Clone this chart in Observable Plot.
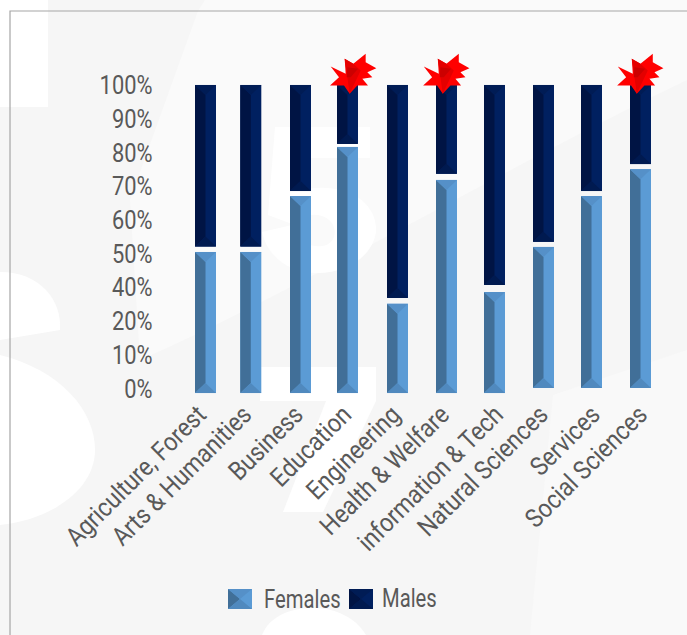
<!DOCTYPE html>
<html>
<head>
<meta charset="utf-8">
<script src="https://cdn.jsdelivr.net/npm/d3@7"></script>
<script src="https://cdn.jsdelivr.net/npm/@observablehq/plot@0.6"></script>
<style>
  html, body { margin: 0; padding: 0; background: #f6f6f6; overflow: hidden; }
  body { position: relative; width: 687px; height: 635px; font-family: Roboto, sans-serif; }
  #bg { position: absolute; left: 0; top: 0; }
  #chart { position: absolute; left: 0; top: 0; }
  #chart svg { background: transparent; overflow: visible; }
  .legend-item { position: absolute; font-size: 25px; color: #595959; line-height: 26px; white-space: nowrap; transform-origin: left center; transform: scaleX(0.81); }
  .swatch { position: absolute; }
</style>
</head>
<body>
<svg id="bg" width="687" height="635" aria-hidden="true">
  <rect width="687" height="635" fill="#f6f6f6"/>
  <path d="M198 11 L130 200 L140 360 C300 290 500 170 687 80 L687 0 L205 0 Z" fill="#fafafa"/>
  <path d="M553 395 L530 635 L687 635 L687 350 Z" fill="#f9f9f9"/>
  <rect width="48" height="107" fill="#ffffff"/>
  <path d="M0 272 C40 272 62 300 60 330 L0 340 Z" fill="#ffffff"/>
  <path d="M0 355 C60 370 95 410 95 450 C95 490 50 520 0 525 Z" fill="#ffffff"/>
  <path d="M260 367 H376 V401 L323 512 H283 L326 401 H260 Z" fill="#ffffff"/>
  <path d="M275 127 H370 V158 H306 L300 190 C350 180 378 205 376 232 C372 258 345 273 318 273 C290 273 268 258 262 232 L292 225 C298 242 312 248 322 246 C338 244 340 222 322 216 C310 212 298 218 292 224 L268 215 Z" fill="#ffffff"/>
  <path d="M262 635 C270 615 292 608 313 608 C336 608 356 618 366 635 Z" fill="#ffffff"/>
  <path d="M10 635 V11 H687" fill="none" stroke="#a6a6a6" stroke-width="1.2"/>
</svg>
<div id="chart"></div>
<svg class="swatch" style="left:228px;top:589px" width="24" height="20" viewBox="0 0 24 20">
  <rect width="24" height="20" fill="#5b9bd5"/>
  <path d="M0 0 L12 10 L0 20 Z" fill="#416f98"/>
  <path d="M0 0 H24 L12 10 Z" fill="#5590c8"/>
  <path d="M0 20 H24 L12 10 Z" fill="#5089be"/>
</svg>
<div class="legend-item" style="left:264px;top:587px">Females</div>
<svg class="swatch" style="left:349px;top:589px" width="24" height="20" viewBox="0 0 24 20">
  <rect width="24" height="20" fill="#002060"/>
  <path d="M0 0 L12 10 L0 20 Z" fill="#001444"/>
  <path d="M0 0 H24 L12 10 Z" fill="#001c55"/>
  <path d="M0 20 H24 L12 10 Z" fill="#001a50"/>
</svg>
<div class="legend-item" style="left:382px;top:586px">Males</div>
<script>
const categories = ["Agriculture, Forest", "Arts & Humanities", "Business", "Education", "Engineering", "Health & Welfare", "information & Tech", "Natural Sciences", "Services", "Social Sciences"];
const femaleBase = [-1.5, -1.5, -1.5, -1.5, -1.5, -1.5, -1.5, 0, 0, 0];
const femaleTop = [50.4, 50.4, 67, 81.6, 30, 71.8, 37, 51.9, 67, 75];
const maleBottom = [52, 52, 68.5, 82.5, 33.5, 73.6, 40.6, 53.4, 68.5, 76.5];
const maleTop = [100, 100, 100, 100, 100, 100, 100, 100, 100, 100];
const labelPositions = [0.04, 1.04, 2.08, 3.1, 4.08, 5.08, 6.2, 7.12, 8.2, 9.16];
const starPositions = [3, 4.88, 8.88];
const yTicks = [0, 10, 20, 40, 50, 60, 70, 80, 90, 100];

const rows = categories.map((c, i) => ({i, c, fb: femaleBase[i], ft: femaleTop[i], mb: maleBottom[i], mt: maleTop[i], lp: labelPositions[i]}));
const starRows = starPositions.map(p => ({p, top: 100}));

const xCenters = [205.5, 250.8, 300.5, 347.5, 397.5, 446.5, 494.5, 543.5, 591.5, 640.5];
const yPixels = yTicks.map((_, k) => 388 - k * 33.67);
const BAR_W = 21, BEVEL_Y = 10;

function bevel(left, top, bottom) {
  return function(index, scales, values, dims, ctx, next) {
    const g = next(index, scales, values, dims, ctx);
    d3.select(g).selectAll("rect").each(function() {
      const r = d3.select(this);
      const x = +r.attr("x"), y = +r.attr("y"), w = +r.attr("width"), h = +r.attr("height");
      const xm = x + w / 2, x1 = x + w, y1 = y + h;
      const add = (pts, fill) => d3.select(g).append("polygon").attr("points", pts.map(p => p.join(",")).join(" ")).attr("fill", fill);
      add([[x, y], [xm, y + BEVEL_Y], [xm, y1 - BEVEL_Y], [x, y1]], left);
      add([[x, y], [x1, y], [xm, y + BEVEL_Y]], top);
      add([[x, y1], [x1, y1], [xm, y1 - BEVEL_Y]], bottom);
    });
    return g;
  };
}

function polySymbol(pts) {
  return {draw(ctx) {
    pts.forEach((p, k) => k ? ctx.lineTo(p[0] / 3, p[1] / 3) : ctx.moveTo(p[0] / 3, p[1] / 3));
    ctx.closePath();
  }};
}
const starOutline = polySymbol([[-52,-57],[-7,-35],[-10,-80],[16,-65],[53,-95],[53,-70],[85,-52],[58,-40],[73,-25],[43,-20],[60,0],[28,0],[5,25],[-12,0],[-54,0],[-27,-25]]);
const starShade = polySymbol([[-10,-80],[16,-65],[38,-45],[5,25],[-2,-25]]);
const starDeep = polySymbol([[-2,-55],[30,-50],[8,-25],[-4,-25]]);

const font = 'Roboto, sans-serif';
const chart = Plot.plot({
  width: 687, height: 575,
  marginLeft: 155, marginRight: 0, marginTop: 0, marginBottom: 180,
  style: {background: "transparent", fontFamily: font, overflow: "visible"},
  x: {type: "linear", domain: d3.range(categories.length), range: xCenters, axis: null},
  y: {type: "linear", domain: yTicks, range: yPixels},
  marks: [
    Plot.axisY({ticks: yTicks, tickFormat: d => d + "%", tickSize: 0, tickPadding: 3, label: null, fontSize: 25, fill: "#595959", dy: 1, className: "ya"}),
    Plot.text(rows, {x: "lp", text: "c", frameAnchor: "bottom", lineAnchor: "middle", textAnchor: "end", rotate: -45, fontSize: 26, fill: "#595959", dx: -6, dy: 15, className: "xa"}),
    Plot.rect(rows, {x1: "i", x2: "i", y1: "fb", y2: "ft", fill: "#5b9bd5", insetLeft: -BAR_W / 2, insetRight: -BAR_W / 2, render: bevel("#416f98", "#5590c8", "#5089be")}),
    Plot.rect(rows, {x1: "i", x2: "i", y1: "mb", y2: "mt", fill: "#002060", insetLeft: -BAR_W / 2, insetRight: -BAR_W / 2, render: bevel("#001444", "#001c55", "#001a50")}),
    Plot.dot(starRows, {x: "p", y: "top", symbol: () => starOutline, fill: "#ff0000", stroke: "none", r: 10}),
    Plot.dot(starRows, {x: "p", y: "top", symbol: () => starShade, fill: "#e40000", stroke: "none", r: 10}),
    Plot.dot(starRows, {x: "p", y: "top", symbol: () => starDeep, fill: "#cc0000", stroke: "none", r: 10})
  ]
});
document.getElementById("chart").append(chart);
// The reference uses a condensed face; narrow the installed one along each baseline.
function condense(selector, factor) {
  chart.querySelectorAll(selector + " text, text" + selector).forEach(t => {
    t.setAttribute("textLength", (t.getComputedTextLength() * factor).toFixed(1));
    t.setAttribute("lengthAdjust", "spacingAndGlyphs");
  });
}
condense(".ya", 0.875);
condense(".xa", 0.88);
</script>
</body>
</html>
